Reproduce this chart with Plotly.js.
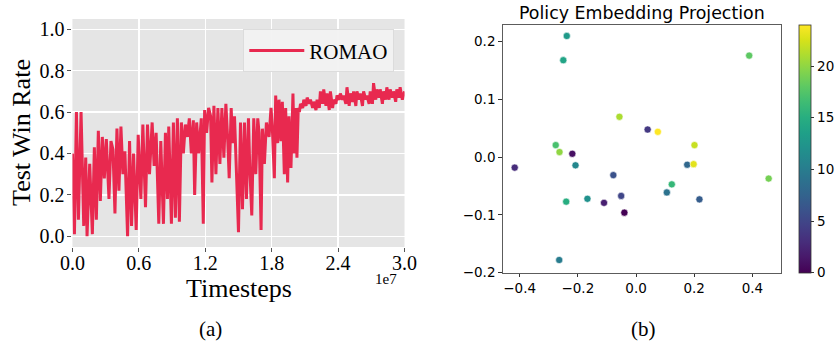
<!DOCTYPE html>
<html>
<head>
<meta charset="utf-8">
<script src="https://cdn.plot.ly/plotly-3.0.1.min.js"></script>
<style>html,body{margin:0;padding:0;background:#fff;}#chart{width:836px;height:343px;}</style>
</head>
<body>
<div id="chart"></div>
<script>
// ---- Panel (a): test win rate of ROMAO (timesteps in units of 1e7) ----
const timesteps = [
0.000,0.018,0.036,0.054,0.078,0.102,0.120,0.132,0.156,0.180,0.198,0.216,0.234,0.252,0.270,0.288,0.306,0.330,0.348,0.366,
0.384,0.402,0.420,0.438,0.456,0.474,0.498,0.516,0.534,0.552,0.576,0.594,0.618,0.636,0.660,0.678,0.696,0.720,0.738,0.756,
0.780,0.798,0.822,0.840,0.858,0.870,0.894,0.912,0.930,0.948,0.966,0.984,1.002,1.020,1.038,1.056,1.074,1.092,1.104,1.122,
1.140,1.164,1.182,1.194,1.212,1.230,1.248,1.260,1.278,1.296,1.314,1.332,1.350,1.368,1.386,1.404,1.416,1.434,1.446,1.464,
1.482,1.500,1.518,1.536,1.554,1.572,1.590,1.602,1.620,1.638,1.656,1.674,1.686,1.704,1.716,1.734,1.752,1.776,1.794,1.806,
1.824,1.836,1.854,1.866,1.884,1.896,1.914,1.926,1.944,1.956,1.974,1.992,2.004,2.016,2.028,2.040,
2.05,2.06,2.08,2.09,2.11,2.12,2.14,2.15,2.17,2.18,2.20,2.21,2.23,2.24,2.26,2.27,2.29,2.30,2.32,2.33,
2.35,2.36,2.38,2.39,2.41,2.42,2.44,2.45,2.47,2.48,2.50,2.51,2.53,2.54,2.56,2.57,2.59,2.60,2.62,2.63,
2.65,2.66,2.68,2.69,2.71,2.72,2.74,2.75,2.77,2.78,2.80,2.81,2.83,2.84,2.86,2.87,2.89,2.90,2.92,2.93,
2.95,2.96,2.98,3.00
];
const winRate = [
0.40,0.01,0.60,0.08,0.60,0.05,0.38,0.00,0.35,0.01,0.43,0.08,0.51,0.17,0.48,0.28,0.47,0.18,0.46,0.42,
0.11,0.52,0.22,0.53,0.30,0.41,0.00,0.46,0.05,0.40,0.03,0.49,0.18,0.54,0.14,0.54,0.30,0.55,0.34,0.50,
0.06,0.46,0.06,0.50,0.18,0.53,0.06,0.55,0.09,0.57,0.07,0.55,0.40,0.54,0.48,0.57,0.40,0.56,0.20,0.55,
0.40,0.57,0.06,0.61,0.50,0.62,0.58,0.26,0.63,0.30,0.62,0.35,0.62,0.38,0.64,0.45,0.28,0.62,0.45,0.58,
0.30,0.02,0.55,0.13,0.55,0.18,0.57,0.33,0.10,0.57,0.30,0.57,0.50,0.03,0.52,0.35,0.55,0.48,0.62,0.52,
0.28,0.68,0.45,0.66,0.46,0.65,0.30,0.62,0.26,0.58,0.33,0.69,0.40,0.62,0.38,0.62,
0.60,0.64,0.62,0.66,0.63,0.67,0.64,0.66,0.62,0.65,0.61,0.66,0.62,0.70,0.64,0.71,0.63,0.69,0.61,0.70,
0.62,0.66,0.64,0.68,0.66,0.69,0.66,0.68,0.64,0.72,0.63,0.69,0.65,0.70,0.63,0.70,0.66,0.69,0.63,0.70,
0.66,0.68,0.64,0.70,0.64,0.74,0.66,0.71,0.67,0.71,0.64,0.70,0.66,0.72,0.66,0.71,0.67,0.70,0.65,0.71,
0.67,0.72,0.66,0.70
];
const seriesName = 'ROMAO';
const xTickVals = [0, 0.6, 1.2, 1.8, 2.4, 3.0];
const xTickText = ['0.0', '0.6', '1.2', '1.8', '2.4', '3.0'];
const yTickVals = [0, 0.2, 0.4, 0.6, 0.8, 1.0];
const yTickText = ['0.0', '0.2', '0.4', '0.6', '0.8', '1.0'];

// ---- Panel (b): policy embedding projection ----
const embX = [-0.238,-0.250,-0.057,0.040,-0.276,-0.263,-0.219,-0.417,-0.208,-0.078,-0.051,-0.240,-0.167,
              -0.110,-0.040,-0.264,0.389,0.075,0.201,0.176,0.198,0.456,0.123,0.106,0.218];
const embY = [0.210,0.168,0.070,0.048,0.021,0.009,0.006,-0.018,-0.014,-0.031,-0.067,-0.077,-0.072,
              -0.079,-0.096,-0.178,0.176,0.044,0.021,-0.013,-0.012,-0.037,-0.047,-0.061,-0.073];
const embIdx = [13,14,21,4,17,20,1,3,11,6,5,15,12,2,0,10,18,24,22,8,23,19,16,9,7];
const cbTicks = [0, 5, 10, 15, 20];
const sx = [-0.4, -0.2, 0.0, 0.2, 0.4];
const sxText = ['\u22120.4', '\u22120.2', '0.0', '0.2', '0.4'];
const sy = [-0.2, -0.1, 0.0, 0.1, 0.2];
const syText = ['\u22120.2', '\u22120.1', '0.0', '0.1', '0.2'];

const W = 836, H = 343;
const px = v => v / W;
const py = v => 1 - v / H;
const serif = 'Liberation Serif, Times New Roman, serif';
const sans = 'DejaVu Sans, sans-serif';

const traces = [
  {
    x: timesteps, y: winRate, type: 'scatter', mode: 'lines', name: seriesName,
    xaxis: 'x', yaxis: 'y',
    line: {color: '#e8294f', width: 3, simplify: false},
  },
  {
    x: embX, y: embY, type: 'scatter', mode: 'markers', showlegend: false,
    xaxis: 'x2', yaxis: 'y2',
    marker: {
      size: 7.2, color: embIdx, colorscale: 'Viridis', cmin: 0, cmax: 24,
      line: {color: 'white', width: 0.6},
      showscale: true,
      colorbar: {
        x: px(802.3), xanchor: 'left', xpad: 0,
        y: py(272.7), yanchor: 'bottom', ypad: 0,
        len: 247.7, lenmode: 'pixels', thickness: 11.5,
        outlinewidth: 0.8, outlinecolor: '#333',
        tickvals: cbTicks, ticks: 'outside', ticklen: 3.5, tickcolor: '#000', tickwidth: 0.8,
        tickfont: {family: sans, size: 13.5, color: '#000'},
      },
    },
  },
];

const layout = {
  width: W, height: H,
  margin: {l: 0, r: 0, t: 0, b: 0},
  paper_bgcolor: '#fff', plot_bgcolor: 'rgba(0,0,0,0)',
  showlegend: true,
  legend: {
    x: px(395.7), xanchor: 'right', y: py(29.3), yanchor: 'top',
    bgcolor: 'rgba(242,242,242,0.95)', bordercolor: '#dcdcdc', borderwidth: 1,
    font: {family: serif, size: 21, color: '#000'},
    entrywidth: 150, itemwidth: 55, tracegroupgap: 0,
  },
  xaxis: {
    domain: [px(72.7), px(406)], anchor: 'y', range: [0, 3.0],
    tickvals: xTickVals, ticktext: xTickText, showgrid: true, gridcolor: '#fff', gridwidth: 1.3,
    zeroline: false, showline: false, ticks: 'outside', ticklen: 4, tickcolor: '#555',
    ticklabelstandoff: -6,
    tickfont: {family: serif, size: 20, color: '#000'},
  },
  yaxis: {
    domain: [py(247), py(19)], anchor: 'x', range: [-0.052, 1.05],
    tickvals: yTickVals, ticktext: yTickText, showgrid: true, gridcolor: '#fff', gridwidth: 1.3,
    zeroline: false, showline: false, ticks: 'outside', ticklen: 4, tickcolor: '#555',
    ticklabelstandoff: -1,
    tickfont: {family: serif, size: 20, color: '#000'},
  },
  xaxis2: {
    domain: [px(504.3), px(783.7)], anchor: 'y2', range: [-0.459, 0.498],
    tickvals: sx, ticktext: sxText, showgrid: false, zeroline: false,
    showline: true, mirror: true, linecolor: '#333', linewidth: 0.8,
    ticks: 'outside', ticklen: 3.5, tickcolor: '#000', tickwidth: 0.8,
    tickfont: {family: sans, size: 13.5, color: '#000'},
  },
  yaxis2: {
    domain: [py(272.7), py(25)], anchor: 'x2', range: [-0.2, 0.229],
    tickvals: sy, ticktext: syText, showgrid: false, zeroline: false,
    showline: true, mirror: true, linecolor: '#333', linewidth: 0.8,
    ticks: 'outside', ticklen: 3.5, tickcolor: '#000', tickwidth: 0.8,
    tickfont: {family: sans, size: 13.5, color: '#000'},
  },
  shapes: [
    {type: 'rect', xref: 'x domain', yref: 'y domain', x0: 0, x1: 1, y0: 0, y1: 1,
     fillcolor: '#e5e5e5', line: {width: 0}, layer: 'below'},
  ],
  annotations: [
    {text: 'Timesteps', x: px(240), y: py(288), xref: 'paper', yref: 'paper', xanchor: 'center', yanchor: 'middle',
     showarrow: false, font: {family: serif, size: 26, color: '#000'}},
    {text: 'Test Win Rate', x: px(21), y: py(132), xref: 'paper', yref: 'paper', xanchor: 'center', yanchor: 'middle',
     textangle: -90, showarrow: false, font: {family: serif, size: 26, color: '#000'}},
    {text: '1e7', x: px(387), y: py(279), xref: 'paper', yref: 'paper', xanchor: 'center', yanchor: 'middle',
     showarrow: false, font: {family: serif, size: 15, color: '#000'}},
    {text: '(a)', x: px(211), y: py(329), xref: 'paper', yref: 'paper', xanchor: 'center', yanchor: 'middle',
     showarrow: false, font: {family: serif, size: 21, color: '#000'}},
    {text: '(b)', x: px(646), y: py(329), xref: 'paper', yref: 'paper', xanchor: 'center', yanchor: 'middle',
     showarrow: false, font: {family: serif, size: 21, color: '#000'}},
    {text: 'Policy Embedding Projection', x: px(644), y: py(12.5), xref: 'paper', yref: 'paper', xanchor: 'center', yanchor: 'middle',
     showarrow: false, font: {family: sans, size: 17.4, color: '#000'}},
  ],
};

Plotly.newPlot('chart', traces, layout, {displayModeBar: false, staticPlot: true});
</script>
</body>
</html>
